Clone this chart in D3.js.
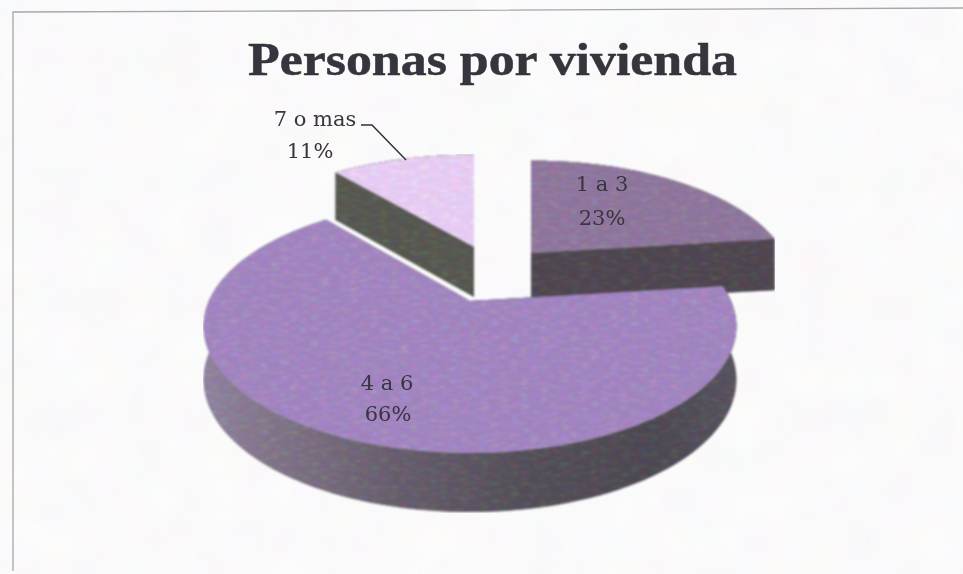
<!DOCTYPE html>
<html>
<head>
<meta charset="utf-8">
<script src="https://cdn.jsdelivr.net/npm/d3@7/dist/d3.min.js"></script>
<style>html,body{margin:0;padding:0;background:#fff}svg{display:block}</style>
</head>
<body>
<svg id="c" width="963" height="574"></svg>
<script>
const titleText = "Personas por vivienda";
const categories = ["1 a 3", "4 a 6", "7 o mas"];
const values = [23, 66, 11];
const percentLabels = ["23%", "66%", "11%"];
const topColors = ["#8b7399", "#9e82bc", "#e3c9ef"];
const sideColors = ["#4c444d", "#5f5666", "#54554e"];

const W = 963, H = 574;
const svg = d3.select("#c");
const defs = svg.append("defs");

const blur = defs.append("filter").attr("id","soft").attr("x","-5%").attr("y","-5%").attr("width","110%").attr("height","110%");
blur.append("feGaussianBlur").attr("stdDeviation",0.5);

const grain = defs.append("filter").attr("id","grain").attr("x","0").attr("y","0").attr("width","100%").attr("height","100%")
  .attr("color-interpolation-filters","sRGB");
grain.append("feTurbulence").attr("type","fractalNoise").attr("baseFrequency","0.1 0.35").attr("numOctaves",3).attr("seed",4).attr("result","n");
grain.append("feColorMatrix").attr("in","n").attr("type","matrix")
  .attr("values","0.3 0 0 0 -0.15  0 0.3 0 0 -0.15  0 0 0.3 0 -0.15  0 0 0 0 1").attr("result","d");
grain.append("feComposite").attr("in","SourceGraphic").attr("in2","d").attr("operator","arithmetic")
  .attr("k1",0).attr("k2",1).attr("k3",1).attr("k4",0).attr("result","m");
grain.append("feComposite").attr("in","m").attr("in2","SourceAlpha").attr("operator","in").attr("result","c");
grain.append("feGaussianBlur").attr("in","c").attr("stdDeviation",0.8);

const paper = defs.append("filter").attr("id","paper").attr("x","0").attr("y","0").attr("width","100%").attr("height","100%")
  .attr("color-interpolation-filters","sRGB");
paper.append("feTurbulence").attr("type","fractalNoise").attr("baseFrequency","0.025").attr("numOctaves",2).attr("seed",9).attr("result","n");
paper.append("feColorMatrix").attr("in","n").attr("type","matrix")
  .attr("values","0.03 0 0 0 0.968  0 0.03 0 0 0.965  0 0 0.03 0 0.968  0 0 0 0 1");

// wall shading, in the slice's own local coordinates (apex at 0)
const sideGrad = defs.append("linearGradient").attr("id","bigSide").attr("gradientUnits","userSpaceOnUse")
  .attr("x1",-266).attr("x2",266).attr("y1",0).attr("y2",0);
[[0,"#8d7f9c"],[0.12,"#7f7386"],[0.35,"#655c6b"],[0.6,"#524d56"],[0.85,"#4b4650"],[1,"#55505b"]]
  .forEach(s => sideGrad.append("stop").attr("offset",s[0]).attr("stop-color",s[1]));

svg.append("rect").attr("width",W).attr("height",H).attr("fill","#fdfcfd").attr("filter","url(#paper)");

// scan frame
const line = d3.line();
svg.append("path").attr("d",line([[13,571],[13,12],[300,11],[963,8]])).attr("fill","none").attr("stroke","#a5a8a6").attr("stroke-width",1.3).attr("filter","url(#soft)");

// perspective projection of the pie disc, per slice
const persp = [0.245, 0.2, 0.245];
const scaleX = [253, 261, 258];
const scaleY = [115, 121.6, 115];
const project = (t, i) => {
  const w = 1 + persp[i] * Math.cos(t);
  return [scaleX[i] * Math.sin(t) / w, -scaleY[i] * Math.cos(t) / w];
};
const D = 52;
const depthAt = t => D / (1 + 0.12 * Math.cos(t));

const pie = d3.pie().sort(null).value(d => d);
const arcs = pie(values);

// slice displacement (explosion), in the order of categories
const apex = [[531,253],[470,301],[474,247]];

const rim = (a, n) => d3.range(n + 1).map(i => a.startAngle + (a.endAngle - a.startAngle) * i / n);
const layer = svg.append("g").attr("filter","url(#grain)");

function drawSlice(i) {
  const a = arcs[i], [ax, ay] = apex[i];
  const g = layer.append("g").attr("transform",`translate(${ax},${ay})`);
  const ts = rim(a, 120);
  const top = ts.map(t => project(t, i));
  // flat side faces
  [a.startAngle, a.endAngle].forEach(t => {
    const p = project(t, i);
    g.append("path").attr("d", line([[0,0],p,[p[0],p[1]+depthAt(t)],[0,50]])+"Z").attr("fill",sideColors[i]);
  });
  // outer curved wall
  const wall = top.map((p,j)=>[p[0],p[1]+depthAt(ts[j])]);
  g.append("path").attr("d", line(top.concat(wall.slice().reverse()))+"Z")
    .attr("fill", i===1 ? "url(#bigSide)" : sideColors[i]);
  // top face
  g.append("path").attr("d", line([[0,0]].concat(top))+"Z").attr("fill",topColors[i]);
}
[2,0,1].forEach(drawSlice);

// faint scan streaks across the big slice
svg.append("path").attr("d",line([[212,297],[420,297]])).attr("stroke","#c8b9d6").attr("stroke-width",1.5).attr("opacity",0.7).attr("filter","url(#soft)");
svg.append("path").attr("d",line([[225,273],[400,273]])).attr("stroke","#7f6a9a").attr("stroke-width",1.2).attr("opacity",0.6).attr("filter","url(#soft)");

// text
const txt = svg.append("g").attr("filter","url(#soft)");
txt.append("text").attr("x",248).attr("y",75)
  .attr("textLength",489).attr("lengthAdjust","spacingAndGlyphs")
  .attr("font-family","'Liberation Serif',serif").attr("font-weight","bold").attr("font-size",46)
  .attr("fill","#34343c").attr("stroke","#34343c").attr("stroke-width",0.5).text(titleText);

const serif = "'DejaVu Serif','Liberation Serif',serif";
const labelPos = [[602,191,602,225],[387,390,388,421],[315,126,310,158]];
categories.forEach((c,i)=>{
  const p = labelPos[i];
  txt.append("text").attr("x",p[0]).attr("y",p[1]).attr("text-anchor","middle")
    .attr("font-family",serif).attr("font-size",21).attr("fill","#38343f").text(c);
  txt.append("text").attr("x",p[2]).attr("y",p[3]).attr("text-anchor","middle")
    .attr("font-family",serif).attr("font-size",21).attr("fill","#38343f").text(percentLabels[i]);
});
svg.append("path").attr("d",line([[361,125],[372,125],[406,160]])).attr("fill","none")
  .attr("stroke","#333").attr("stroke-width",1.5).attr("filter","url(#soft)");
</script>
</body>
</html>
